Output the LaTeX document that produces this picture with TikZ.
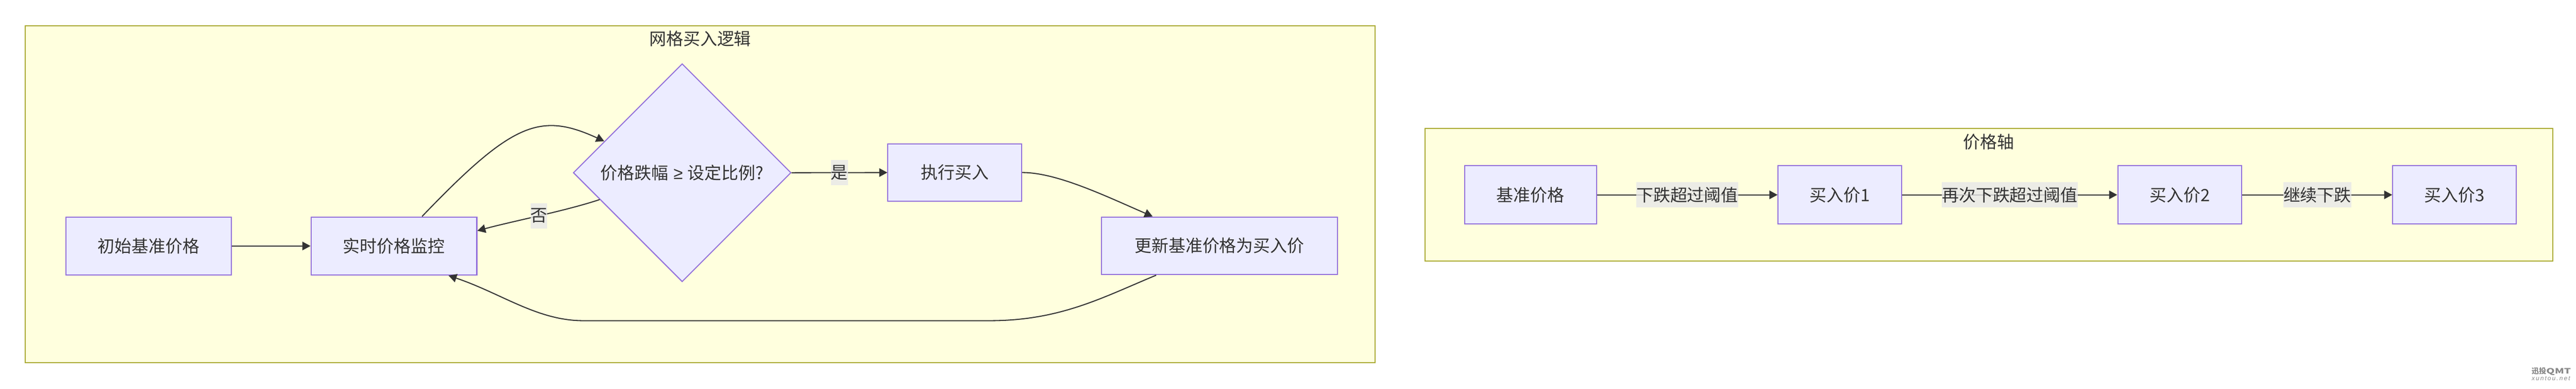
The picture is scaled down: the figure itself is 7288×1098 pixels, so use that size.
\documentclass[tikz,border=0pt]{standalone}
\usepackage{fontspec}
\usepackage{graphicx}
\setmainfont{Noto Sans CJK SC}
\newfontfamily\sitefont{Liberation Sans}
\usetikzlibrary{positioning,shapes.geometric,arrows.meta}
\usepackage{xcolor}
\definecolor{clusterfill}{HTML}{FFFFDE}
\definecolor{clusterline}{HTML}{AAAA33}
\definecolor{nodefill}{HTML}{ECECFF}
\definecolor{nodeline}{HTML}{9370DB}
\definecolor{edgeline}{HTML}{333333}
\definecolor{labelfill}{HTML}{E8E8E8}
\definecolor{markgray}{HTML}{888888}

\tikzset{
    cluster/.style={draw=clusterline, fill=clusterfill, line width=0.75pt},
    title/.style={text=edgeline, inner sep=0pt, font=\fontsize{12pt}{14pt}\selectfont},
    box/.style={draw=nodeline, fill=nodefill, line width=0.75pt, text=edgeline,
        minimum height=41pt, inner sep=0pt, font=\fontsize{12pt}{14pt}\selectfont},
    decision/.style={diamond, draw=nodeline, fill=nodefill, line width=0.75pt, text=edgeline,
        minimum width=154pt, minimum height=154pt, inner sep=0pt, font=\fontsize{12pt}{14pt}\selectfont},
    flow/.style={draw=edgeline, line width=0.75pt, -{Triangle[length=5.75pt,width=6pt]}},
    edgelabel/.style={fill=labelfill, fill opacity=0.8, text opacity=1, text=edgeline,
        inner xsep=0pt, inner ysep=0pt, minimum height=17.75pt, font=\fontsize{12pt}{14pt}\selectfont},
    brand/.style={text=markgray, inner sep=0pt}
}

\begin{document}
\begin{tikzpicture}[x=0.25pt, y=-0.25pt]
\useasboundingbox (0,0) rectangle (7288,1098);

% Grid buying logic cluster
\draw[cluster] (72,73) rectangle (3890,1025);
\node[title] (gridtitle) at (1981,109) {网格买入逻辑};

\node[box, minimum width=117.25pt] (start) at (420.5,695) {初始基准价格};
\node[box, minimum width=117.25pt] (monitor) at (1114.5,695) {实时价格监控};
\node[decision] (check) at (1930,488) {价格跌幅\hspace{3.5pt}{\sitefont ≥}\hspace{3.5pt}设定比例?};
\node[box, minimum width=94.5pt, minimum height=40.75pt] (buy) at (2701,487.5) {执行买入};
\node[box, minimum width=167pt, minimum height=40.75pt] (update) at (3450,694.5) {更新基准价格为买入价};

\draw[flow] (start) -- (monitor);
\draw[flow] ([xshift=19.9pt]monitor.north) .. controls (1450,345) and (1528,316) .. (check.158);
\draw[flow] (check.198) .. controls (1600,596) and (1450,625) .. node[edgelabel, pos=0.5] {否} ([yshift=10.75pt]monitor.east);
\draw[flow] (check.east) -- node[edgelabel] {是} (buy.west);
\draw[flow] (buy.east) .. controls (2990,487) and (3130,555) .. ([xshift=-47.25pt]update.north);
\draw[flow] ([xshift=-44.75pt]update.south) .. controls (3120,840) and (3000,906) .. (2800,906)
    -- (1650,906) .. controls (1520,906) and (1419,829) .. ([xshift=38.6pt]monitor.south);

% Price axis cluster
\draw[cluster] (4031,363) rectangle (7222,738);
\node[title] (axistitle) at (5626,401) {价格轴};

\node[box, minimum width=93.25pt] (p0) at (4330,550.5) {基准价格};
\node[box, minimum width=87.5pt, right=127.75pt of p0] (p1) {买入价1};
\node[box, minimum width=87.75pt, right=152pt of p1] (p2) {买入价2};
\node[box, minimum width=87.5pt, right=106pt of p2] (p3) {买入价3};

\foreach \a/\b/\txt in {p0/p1/下跌超过阈值, p1/p2/再次下跌超过阈值, p2/p3/继续下跌} {
    \draw[flow] (\a) -- node[edgelabel] {\txt} (\b);
}

% Watermark
\node[brand, font=\fontsize{5.2pt}{6pt}\selectfont\bfseries] (mark) at (7218,1049) {迅投\scalebox{1.45}[1]{QMT}};
\node[brand, font=\fontsize{4.4pt}{5pt}\sitefont\itshape] (site) at (7217,1069) {x\,u\,n\,t\,o\,u\,.\,n\,e\,t};
\end{tikzpicture}
\end{document}
